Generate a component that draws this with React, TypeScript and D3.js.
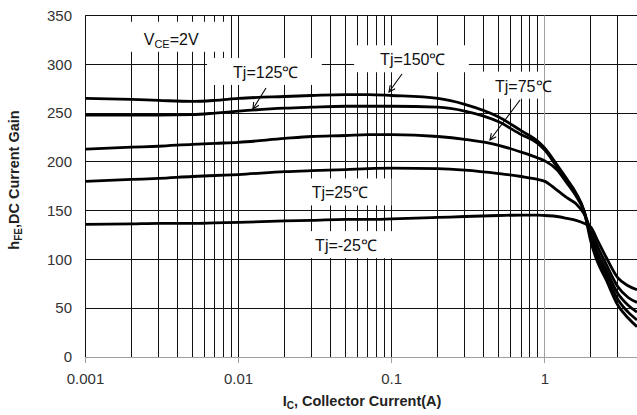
import React from 'react';
import * as d3 from 'd3';

// collector current (A), shared by every curve
const currents = [0.001, 0.002, 0.003, 0.005, 0.007, 0.01, 0.02, 0.03, 0.05, 0.07, 0.1, 0.2, 0.3, 0.5, 0.7, 0.9, 1.0, 1.2, 1.4, 1.6, 1.8, 2.0, 2.2, 2.5, 3.0, 3.5, 4.0];

// hFE for each junction temperature
const hfe150 = [265, 264, 263, 262, 263, 265, 267, 268, 269, 269, 268, 265, 259, 246, 232, 221, 214, 197, 182, 168, 150, 118, 98, 80, 53, 40, 31];
const hfe125 = [248, 248, 248, 248.5, 250, 252, 255, 256, 257, 257, 257, 256, 252, 241, 228, 219, 212, 195, 181, 167, 150, 122, 103, 85, 59, 46, 38];
const hfe75 = [213, 215, 216, 218, 219, 220, 224, 226, 227, 228, 228, 226, 223, 217, 210, 204, 201, 192, 178, 165, 150, 126, 108, 90, 65, 53, 46];
const hfe25 = [180, 182, 183, 185, 186, 187, 190, 191, 192, 193, 193.5, 193, 191.5, 188, 185, 182, 180, 171, 163, 157, 147, 130, 114, 96, 72, 61, 56];
const hfeM25 = [136, 136.5, 137, 137, 137.5, 138, 139.5, 140, 141, 141, 141.5, 143, 144, 145, 145.5, 145.5, 145, 144, 142, 140, 137, 133, 120, 103, 81, 73, 69];

const series = [hfe150, hfe125, hfe75, hfe25, hfeM25];

const xTickLabels = ['0.001', '0.01', '0.1', '1'];
const yTicks = [0, 50, 100, 150, 200, 250, 300, 350];

// annotations: text anchor (left, baseline) in data units
const tempLabels = [
  { text: 'Tj=125℃', I: 0.0092, h: 286 },
  { text: 'Tj=150℃', I: 0.084, h: 299 },
  { text: 'Tj=75℃', I: 0.473, h: 272 },
  { text: 'Tj=25℃', I: 0.030, h: 162.5 },
  { text: 'Tj=-25℃', I: 0.0316, h: 108.5 },
];
const vceLabel = { I: 0.0024, h: 320 };

const arrows = [
  { from: [0.0151, 275.7], to: [0.0124, 254.2] },
  { from: [0.1167, 290], to: [0.096, 271.6] },
  { from: [0.689, 263.4], to: [0.4385, 222.4] },
];

const W = 637;
const H = 415;
const FONT = '"Liberation Sans", Arial, sans-serif';

const xScale = d3.scaleLog().domain([0.001, 4]).range([85.5, 637]);
const yScale = d3.scaleLinear().domain([0, 350]).range([357, 15.5]);

const crisp = (v: number) => Math.floor(v) + 0.5;

export default function App() {
  const x0 = xScale.range()[0];
  const x1 = xScale.range()[1];
  const yBottom = yScale(0);
  const yTop = yScale(350);

  // every 1..9 multiple of each decade inside the domain
  const gridX: number[] = [];
  [0.001, 0.01, 0.1, 1].forEach(d => {
    for (let m = 1; m <= 9; m++) {
      const v = +(d * m).toPrecision(3);
      if (v <= 3.5) gridX.push(v);
    }
  });

  const line = d3.line<number>()
    .x((_, i) => xScale(currents[i]))
    .y(d => yScale(d))
    .curve(d3.curveMonotoneX);

  const charW = (s: string) => s.length * 0.56;

  return (
    <>
      <style>{`body{margin:0}`}</style>
      <svg width={W} height={H} style={{ display: 'block', background: '#fff' }} fontFamily={FONT}>
        {/* horizontal grid */}
        {yTicks.map(t => (
          <line key={'h' + t} x1={x0} x2={x1} y1={crisp(yScale(t))} y2={crisp(yScale(t))}
            stroke={t === 0 ? '#a0a0a0' : '#111'} strokeWidth={1} />
        ))}
        {/* vertical grid */}
        {gridX.filter(v => v !== 1).map(v => (
          <line key={'v' + v} x1={crisp(xScale(v))} x2={crisp(xScale(v))} y1={yTop} y2={yBottom}
            stroke="#111" strokeWidth={1} />
        ))}

        {/* white boxes behind the labels */}
        <rect x={xScale(vceLabel.I) - 26} y={yScale(vceLabel.h) - 23} width={108} height={30} fill="#fff" />
        {tempLabels.map(l => {
          const w = charW(l.text) * 16;
          return (
            <rect key={'b' + l.text} x={xScale(l.I) - 26} y={yScale(l.h) - 20} width={w + 52} height={27} fill="#fff" />
          );
        })}

        {/* grey decade line at 1 A and x axis ticks */}
        <line x1={crisp(xScale(1))} x2={crisp(xScale(1))} y1={yTop} y2={yBottom} stroke="#a0a0a0" strokeWidth={1} />
        {[0.001, 0.01, 0.1, 1].map(v => (
          <line key={'t' + v} x1={crisp(xScale(v))} x2={crisp(xScale(v))} y1={yBottom} y2={yBottom + 6}
            stroke="#a0a0a0" strokeWidth={1} />
        ))}
        <line x1={crisp(x0)} x2={crisp(x0)} y1={yTop} y2={yBottom} stroke="#111" strokeWidth={1} />

        {/* curves */}
        {series.map((s, i) => (
          <path key={'s' + i} d={line(s) || ''} fill="none" stroke="#000" strokeWidth={2.8} strokeLinejoin="round" />
        ))}

        {/* arrows */}
        {arrows.map((a, i) => {
          const fx = xScale(a.from[0]), fy = yScale(a.from[1]);
          const tx = xScale(a.to[0]), ty = yScale(a.to[1]);
          const ang = Math.atan2(ty - fy, tx - fx);
          const len = 7, spread = 0.45;
          const p1 = [tx - len * Math.cos(ang - spread), ty - len * Math.sin(ang - spread)];
          const p2 = [tx - len * Math.cos(ang + spread), ty - len * Math.sin(ang + spread)];
          return (
            <g key={'a' + i} stroke="#000" strokeWidth={1.1} fill="none">
              <line x1={fx} y1={fy} x2={tx} y2={ty} />
              <path d={`M${p1[0]},${p1[1]}L${tx},${ty}L${p2[0]},${p2[1]}`} />
            </g>
          );
        })}

        {/* labels */}
        <text x={xScale(vceLabel.I)} y={yScale(vceLabel.h)} fontSize={16} fill="#111">
          V<tspan fontSize={11} dy={3}>CE</tspan><tspan dy={-3}>=2V</tspan>
        </text>
        {tempLabels.map(l => (
          <text key={l.text} x={xScale(l.I)} y={yScale(l.h)} fontSize={16} fill="#111">{l.text}</text>
        ))}

        {/* tick labels */}
        {yTicks.map(t => (
          <text key={'yl' + t} x={72} y={yScale(t)} dy="0.35em" textAnchor="end" fontSize={15} fill="#333">{t}</text>
        ))}
        {xTickLabels.map(t => (
          <text key={'xl' + t} x={xScale(+t)} y={384} textAnchor="middle" fontSize={15} fill="#333">{t}</text>
        ))}

        {/* axis titles */}
        <text x={362} y={406} textAnchor="middle" fontSize={14.5} fontWeight="bold" fill="#222">
          I<tspan fontSize={10} dy={3}>C</tspan><tspan dy={-3}>, Collector Current(A)</tspan>
        </text>
        <text transform={`translate(19,180) rotate(-90)`} textAnchor="middle" fontSize={14.5} fontWeight="bold" fill="#222">
          h<tspan fontSize={10} dy={3}>FE</tspan><tspan dy={-3}>,DC Current Gain</tspan>
        </text>
      </svg>
    </>
  );
}
